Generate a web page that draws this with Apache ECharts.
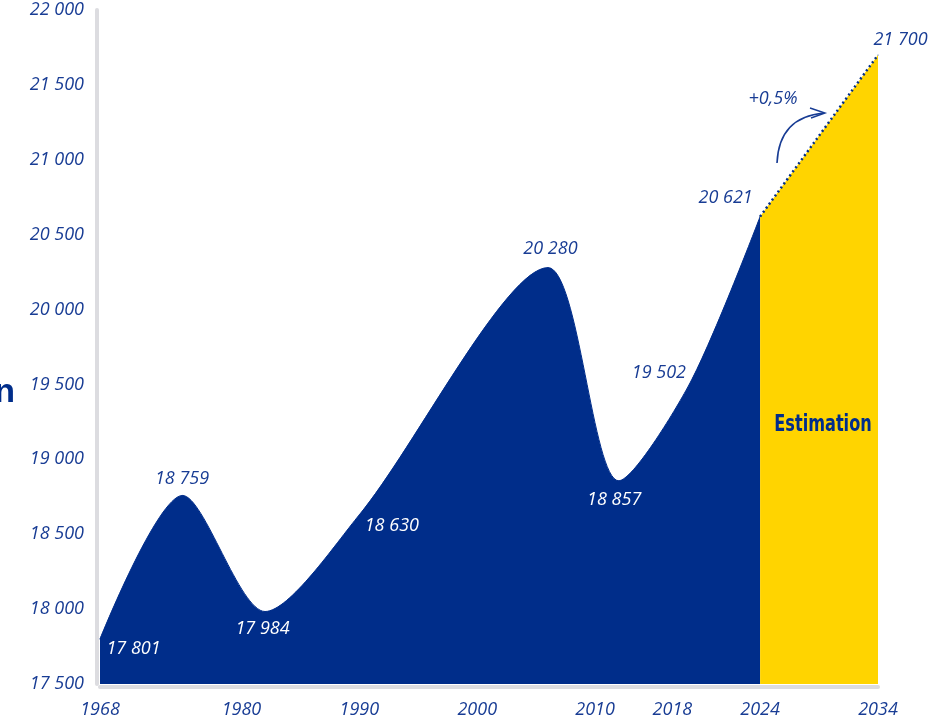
<!DOCTYPE html>
<html>
<head>
<meta charset="utf-8">
<script src="https://cdn.jsdelivr.net/npm/echarts@6/dist/echarts.min.js"></script>
<style>
  html, body { margin: 0; padding: 0; background: #fff; }
  #echarts { width: 933px; height: 721px; }
</style>
</head>
<body>
<div id="echarts"></div>
<script>
// recensements
var years = [1968, 1975, 1982, 1990, 2006, 2012, 2018, 2024];
var population = [17801, 18759, 17984, 18630, 20280, 18857, 19502, 20621];
// estimation
var estYears = [2024, 2034];
var estPopulation = [20621, 21700];
// axes
var xTicks = [1968, 1980, 1990, 2000, 2010, 2018, 2024, 2034];
var yMin = 17500, yMax = 22000, yStep = 500;
var growth = '+0,5%';

var blue = '#002d8a';
var yellow = '#ffd400';
var ink = '#183c94';
var grey = '#dcdce0';
var hand = '"Open Sans", "DejaVu Sans", sans-serif';

// où poser chaque étiquette par rapport à son point [dx, dy, blanc ?]
var labelPlace = {
    1968: [34, 10, true],
    1975: [0, -16, false],
    1982: [-2, 18, true],
    1990: [33, 12, true],
    2006: [3, -18, false],
    2012: [-4, 20, true],
    2018: [-30, -11, false],
    2024: [-34, -18, false],
    2034: [23, -15, false]
};

function fmt(v) {
    return String(v).replace(/\B(?=(\d{3})+(?!\d))/g, ' ');
}

function point(yr, v, showLabel) {
    var p = labelPlace[yr];
    return {
        value: [yr, v],
        label: {
            show: showLabel,
            position: [p[0], p[1]],
            align: 'center',
            verticalAlign: 'middle',
            color: p[2] ? '#ffffff' : ink
        }
    };
}

var mainData = [];
years.forEach(function (yr, i) {
    mainData.push(point(yr, population[i], true));
});
var estData = [];
estYears.forEach(function (yr, i) {
    estData.push(point(yr, estPopulation[i], i > 0));
});

var myChart = echarts.init(document.getElementById('echarts'));

var labelStyle = {
    fontFamily: hand,
    fontStyle: 'italic',
    fontSize: 18,
    formatter: function (p) { return fmt(p.value[1]); }
};

var option = {
    animation: false,
    grid: { left: 100, right: 55, top: 10, bottom: 37 },
    xAxis: {
        type: 'value',
        min: 1968,
        max: 2034,
        offset: 3,
        splitLine: { show: false },
        axisTick: { show: false },
        axisLine: { show: true, lineStyle: { color: grey, width: 4 } },
        axisLabel: {
            customValues: xTicks,
            margin: 14,
            color: ink,
            fontFamily: hand,
            fontStyle: 'italic',
            fontSize: 18,
            formatter: function (v) {
                // 2018 est décalé vers la gauche sur l'original
                return v === 2018 ? '{s|2018}' : String(v);
            },
            rich: {
                s: {
                    color: ink, fontFamily: hand, fontStyle: 'italic', fontSize: 18,
                    padding: [0, 34, 0, 0]
                }
            }
        }
    },
    yAxis: {
        type: 'value',
        min: yMin,
        max: yMax,
        interval: yStep,
        offset: 3,
        splitLine: { show: false },
        axisTick: { show: false },
        axisLine: { show: true, lineStyle: { color: grey, width: 4 } },
        axisLabel: {
            margin: 13,
            color: ink,
            fontFamily: hand,
            fontStyle: 'italic',
            fontSize: 18,
            formatter: fmt
        }
    },
    series: [{
        type: 'line',
        data: mainData,
        smooth: 0.28,
        symbol: 'circle',
        symbolSize: 1,
        itemStyle: { color: blue },
        lineStyle: { color: blue, width: 1 },
        areaStyle: { color: blue, opacity: 1 },
        label: labelStyle,
        silent: true,
        z: 2
    }, {
        type: 'line',
        data: estData,
        symbol: 'circle',
        symbolSize: 1,
        itemStyle: { color: blue },
        lineStyle: { color: blue, width: 2.5, type: [2, 3] },
        areaStyle: { color: yellow, opacity: 1 },
        label: labelStyle,
        silent: true,
        z: 3
    }],
    graphic: [{
        type: 'text',
        x: 823,
        y: 425,
        scaleX: 0.78,
        style: {
            text: 'Estimation',
            fontFamily: '"DejaVu Sans Condensed", "DejaVu Sans", sans-serif',
            fontWeight: 'bold',
            fontSize: 23,
            fill: blue,
            align: 'center',
            verticalAlign: 'middle'
        },
        z: 10
    }, {
        type: 'text',
        x: 773,
        y: 99,
        style: {
            text: growth,
            fontFamily: hand,
            fontStyle: 'italic',
            fontSize: 18,
            fill: ink,
            align: 'center',
            verticalAlign: 'middle'
        },
        z: 10
    }, {
        type: 'bezierCurve',
        shape: { x1: 777, y1: 163, cpx1: 779, cpy1: 117, x2: 824, y2: 113 },
        style: { stroke: ink, lineWidth: 1.6, fill: null },
        z: 10
    }, {
        type: 'polyline',
        shape: { points: [[810, 108], [825, 113], [811, 118]] },
        style: { stroke: ink, lineWidth: 1.4, fill: null },
        z: 10
    }, {
        type: 'text',
        x: 15,
        y: 393,
        style: {
            text: 'n',
            fontFamily: '"Liberation Sans", Arial, sans-serif',
            fontWeight: 'bold',
            fontSize: 34,
            fill: blue,
            align: 'right',
            verticalAlign: 'middle'
        },
        z: 10
    }]
};

myChart.setOption(option);
</script>
</body>
</html>
